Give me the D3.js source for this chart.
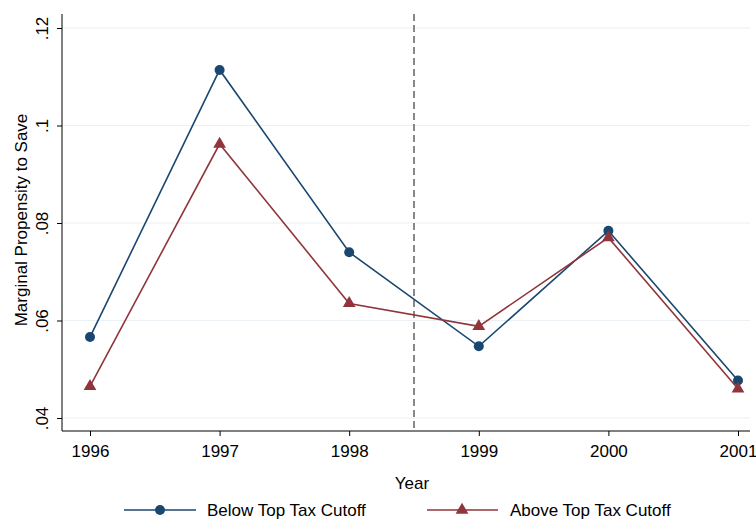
<!DOCTYPE html>
<html><head><meta charset="utf-8">
<script src="https://cdn.jsdelivr.net/npm/d3@7"></script>
<style>body{margin:0;background:#fff}svg{font-family:Arial,"Liberation Sans",sans-serif}</style>
</head><body>
<svg width="756" height="521"></svg>
<script>
var years = [1996, 1997, 1998, 1999, 2000, 2001];
var below = [0.0566, 0.1114, 0.0740, 0.0547, 0.0784, 0.0477];
var above = [0.0465, 0.0962, 0.0635, 0.0588, 0.0770, 0.0460];
var yTicks = [0.04, 0.06, 0.08, 0.10, 0.12];
var yLabels = [".04", ".06", ".08", ".1", ".12"];

var svg = d3.select("svg");
var x = d3.scaleLinear().domain([1996, 2001]).range([90, 738]);
var y = d3.scaleLinear().domain([0.04, 0.12]).range([418, 28]);

// grid
svg.selectAll(".grid").data(yTicks).enter().append("line")
  .attr("x1", 62).attr("x2", 750)
  .attr("y1", function(d){ return y(d); }).attr("y2", function(d){ return y(d); })
  .attr("stroke", "#eaf0f3").attr("stroke-width", 1);

// axes
var yAxis = svg.append("g").attr("transform", "translate(62,0)")
  .call(d3.axisLeft(y).tickValues(yTicks).tickSize(5)
    .tickFormat(function(d, i){ return yLabels[i]; }));
yAxis.select(".domain").attr("d", "M0,14V431");
yAxis.selectAll("text").attr("font-size", 17).attr("fill", "#000")
  .attr("transform", "rotate(-90)").attr("text-anchor", "middle")
  .attr("x", 0).attr("y", -14).attr("dy", "0");

var xAxis = svg.append("g").attr("transform", "translate(0,431)")
  .call(d3.axisBottom(x).tickValues(years).tickSize(5).tickFormat(d3.format("d")));
xAxis.select(".domain").attr("d", "M62,0H750");
xAxis.selectAll("text").attr("font-size", 17).attr("fill", "#000").attr("dy", "1.05em");

svg.append("text").attr("x", 412).attr("y", 489).attr("text-anchor", "middle")
  .attr("font-size", 17).text("Year");
svg.append("text").attr("transform", "translate(27,220) rotate(-90)")
  .attr("text-anchor", "middle").attr("font-size", 17).text("Marginal Propensity to Save");

// reform line
svg.append("line").attr("x1", x(1998.5)).attr("x2", x(1998.5))
  .attr("y1", 14).attr("y2", 431)
  .attr("stroke", "#888").attr("stroke-width", 2).attr("stroke-dasharray", "7,4");

var line = d3.line().x(function(d, i){ return x(years[i]); }).y(function(d){ return y(d); });
var blue = "#1a476f", red = "#90353b";

svg.append("path").datum(below).attr("d", line).attr("fill", "none").attr("stroke", blue).attr("stroke-width", 1.6);
svg.append("path").datum(above).attr("d", line).attr("fill", "none").attr("stroke", red).attr("stroke-width", 1.6);

svg.selectAll(".dot").data(below).enter().append("circle")
  .attr("cx", function(d, i){ return x(years[i]); }).attr("cy", function(d){ return y(d); })
  .attr("r", 5).attr("fill", blue);
var tri = d3.symbol().type(d3.symbolTriangle).size(70);
svg.selectAll(".tri").data(above).enter().append("path")
  .attr("d", tri)
  .attr("transform", function(d, i){ return "translate(" + x(years[i]) + "," + y(d) + ")"; })
  .attr("fill", red);

// legend
var lg = svg.append("g");
lg.append("line").attr("x1", 124).attr("x2", 196).attr("y1", 510).attr("y2", 510).attr("stroke", blue).attr("stroke-width", 1.6);
lg.append("circle").attr("cx", 160).attr("cy", 510).attr("r", 5).attr("fill", blue);
lg.append("text").attr("x", 207).attr("y", 516).attr("font-size", 17).text("Below Top Tax Cutoff");
lg.append("line").attr("x1", 427).attr("x2", 498).attr("y1", 510).attr("y2", 510).attr("stroke", red).attr("stroke-width", 1.6);
lg.append("path").attr("d", tri).attr("transform", "translate(462,510)").attr("fill", red);
lg.append("text").attr("x", 510).attr("y", 516).attr("font-size", 17).text("Above Top Tax Cutoff");
</script>
</body></html>
